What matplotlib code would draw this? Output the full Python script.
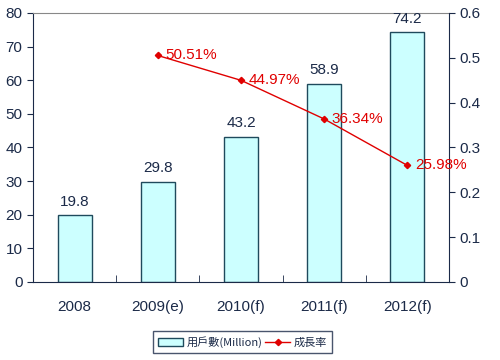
import matplotlib
matplotlib.use("Agg")
import matplotlib.pyplot as plt
import numpy as np

plt.rcParams['font.family'] = ['Liberation Sans', 'Noto Sans CJK TC', 'DejaVu Sans']

categories = ['2008', '2009(e)', '2010(f)', '2011(f)', '2012(f)']
users = [19.8, 29.8, 43.2, 58.9, 74.2]
growth_cats = ['2009(e)', '2010(f)', '2011(f)', '2012(f)']
growth = [0.5051, 0.4497, 0.3634, 0.2598]
growth_labels = ['50.51%', '44.97%', '36.34%', '25.98%']

navy = '#1b2a48'
red = '#e00000'

fig = plt.figure(figsize=(5, 3.6), dpi=100)
ax = fig.add_axes([0.066, 0.217, 0.832, 0.747])
x = np.arange(len(categories))
bars = ax.bar(x, users, width=0.41, color='#ccffff', edgecolor='#1f4a5c', linewidth=1.0, zorder=2,
              label='用戶數(Million)')
for xi, v in zip(x, users):
    ax.text(xi, v + 2.0, f'{v}', ha='center', va='bottom', fontsize=11, color=navy)
ax.set_xlim(-0.5, len(categories) - 0.5)
ax.set_ylim(0, 80)
ax.set_yticks(range(0, 81, 10))
ax.set_xticks(x)
ax.set_xticklabels(categories)
ax.tick_params(axis='x', length=0, pad=13, labelsize=11, labelcolor=navy)
ax.set_xticks(np.arange(0.5, len(categories) - 1, 1), minor=True)
ax.tick_params(axis='x', which='minor', direction='in', length=5, color=navy)
ax.tick_params(axis='y', direction='out', length=4, labelsize=11, labelcolor=navy, color=navy)
for s in ['left', 'bottom']:
    ax.spines[s].set_color(navy)
ax.spines['top'].set_color('#888888')
ax.spines['right'].set_visible(False)

ax2 = ax.twinx()
gx = [categories.index(c) for c in growth_cats]
line, = ax2.plot(gx, growth, color=red, marker='D', markersize=3.2, linewidth=1.0, zorder=3, label='成長率')
for xi, v, lab in zip(gx, growth, growth_labels):
    ax2.text(xi + 0.09, v, lab, ha='left', va='center', fontsize=11, color=red)
ax2.set_ylim(0, 0.6)
ax2.set_yticks(np.arange(0, 0.61, 0.1))
ax2.set_yticklabels(['0', '0.1', '0.2', '0.3', '0.4', '0.5', '0.6'])
ax2.tick_params(axis='y', direction='out', length=4, labelsize=11, labelcolor=navy, color=navy)
ax2.spines['right'].set_color(navy)
for s in ['left', 'top', 'bottom']:
    ax2.spines[s].set_visible(False)

leg = fig.legend([bars, line], ['用戶數(Million)', '成長率'], loc='center', bbox_to_anchor=(0.485, 0.95 - 0.9),
                 ncol=2, frameon=True, fancybox=False, handlelength=2.2, handletextpad=0.3,
                 columnspacing=0.3, borderpad=0.5, prop={'family': ['Noto Sans CJK TC', 'DejaVu Sans'], 'size': 8})
leg.get_frame().set_edgecolor(navy)
leg.get_frame().set_linewidth(1.0)
for t in leg.get_texts():
    t.set_color(navy)

fig.savefig('out.png', dpi=100)
